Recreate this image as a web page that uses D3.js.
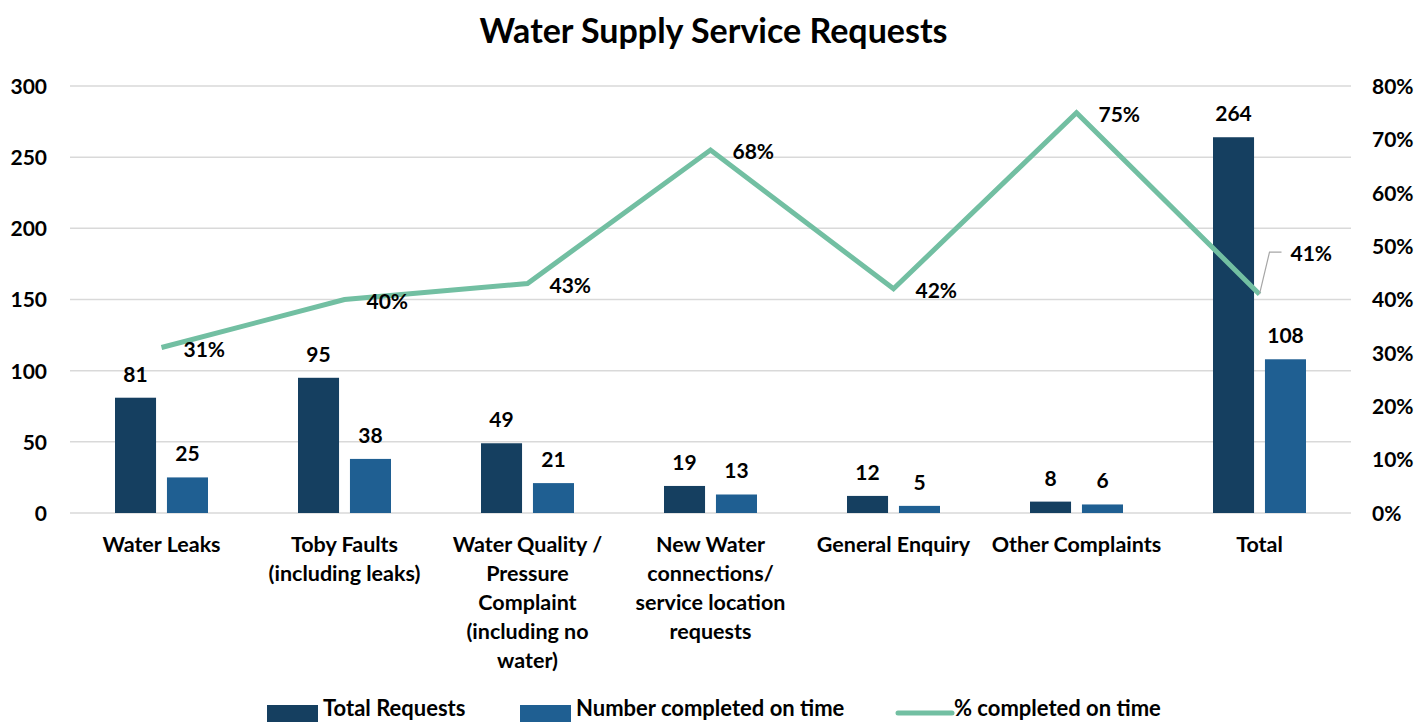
<!DOCTYPE html>
<html>
<head>
<meta charset="utf-8">
<script src="https://cdn.jsdelivr.net/npm/d3@7/dist/d3.min.js"></script>
<style>
  html, body { margin: 0; padding: 0; background: #fff; }
  svg text { font-family: Lato, "Open Sans", "DejaVu Sans", sans-serif; font-weight: 700; fill: #000; }
</style>
</head>
<body>
<svg id="chart" width="1417" height="722"></svg>
<script>
// Service request categories (each entry is the wrapped lines of the axis label)
const categories = [
  ["Water Leaks"],
  ["Toby Faults", "(including leaks)"],
  ["Water Quality /", "Pressure", "Complaint", "(including no", "water)"],
  ["New Water", "connections/", "service location", "requests"],
  ["General Enquiry"],
  ["Other Complaints"],
  ["Total"]
];
const totalRequests   = [81, 95, 49, 19, 12, 8, 264];
const completedOnTime = [25, 38, 21, 13, 5, 6, 108];
const pctOnTime       = [0.31, 0.40, 0.43, 0.68, 0.42, 0.75, 0.41];

const leftTicks  = [0, 50, 100, 150, 200, 250, 300];
const rightTicks = [0, 0.1, 0.2, 0.3, 0.4, 0.5, 0.6, 0.7, 0.8];

const seriesNames = ["Total Requests", "Number completed on time", "% completed on time"];
const colors = { total: "#153f60", done: "#1f5f92", pct: "#72bfa2", grid: "#d9d9d9" };

const svg = d3.select("#chart");
const W = 1417;
const plot = { left: 70, right: 1351, top: 86, bottom: 513 };

const keys = categories.map(c => c.join(" "));
const x = d3.scaleBand().domain(keys).range([plot.left, plot.right]).paddingInner(0).paddingOuter(0);
const yL = d3.scaleLinear().domain([0, 300]).range([plot.bottom, plot.top]);
const yR = d3.scaleLinear().domain([0, 0.8]).range([plot.bottom, plot.top]);
const cx = k => x(k) + x.bandwidth() / 2;
const inner = d3.scaleBand().domain(["total", "done"]).range([-46.5, 46.5]).paddingInner(0.21);

// Title
svg.append("text").attr("x", W / 2 + 5).attr("y", 43).attr("text-anchor", "middle")
  .style("font-size", "34px").text("Water Supply Service Requests");

// Gridlines
svg.append("g").selectAll("line").data(leftTicks).join("line")
  .attr("x1", plot.left).attr("x2", plot.right)
  .attr("y1", d => yL(d)).attr("y2", d => yL(d))
  .attr("stroke", colors.grid).attr("stroke-width", 1.5);

// Left axis
const axL = d3.axisLeft(yL).tickValues(leftTicks).tickSize(0).tickPadding(0);
const gL = svg.append("g").attr("transform", `translate(47,0)`).call(axL);
gL.select(".domain").remove();
gL.selectAll("text").style("font-size", "21px").attr("dy", "0.35em").attr("fill", "#000");

// Right axis
const axR = d3.axisRight(yR).tickValues(rightTicks).tickSize(0).tickPadding(0).tickFormat(d3.format(".0%"));
const gR = svg.append("g").attr("transform", `translate(1372,0)`).call(axR);
gR.select(".domain").remove();
gR.selectAll("text").style("font-size", "21px").attr("dy", "0.35em").attr("fill", "#000");

// Bars
const rows = keys.map((k, i) => ({ k, total: totalRequests[i], done: completedOnTime[i], pct: pctOnTime[i] }));
const barG = svg.append("g");
["total", "done"].forEach(s => {
  barG.selectAll("rect." + s).data(rows).join("rect").attr("class", s)
    .attr("x", d => cx(d.k) + inner(s))
    .attr("width", inner.bandwidth())
    .attr("y", d => yL(d[s]))
    .attr("height", d => yL(0) - yL(d[s]))
    .attr("fill", colors[s]);
  barG.selectAll("text." + s).data(rows).join("text").attr("class", s)
    .attr("x", d => cx(d.k) + inner(s) + inner.bandwidth() / 2)
    .attr("y", d => yL(d[s]) - 16)
    .attr("text-anchor", "middle").style("font-size", "21px")
    .text(d => d[s]);
});

// Percentage line
const line = d3.line().x(d => cx(d.k)).y(d => yR(d.pct));
svg.append("path").datum(rows).attr("d", line)
  .attr("fill", "none").attr("stroke", colors.pct).attr("stroke-width", 5)
  .attr("stroke-linejoin", "miter").attr("stroke-linecap", "butt");

// Percentage labels
const fmtPct = d3.format(".0%");
const last = rows.length - 1;
svg.append("g").selectAll("text").data(rows).join("text")
  .attr("x", (d, i) => i === last ? cx(d.k) + 31 : cx(d.k) + 22)
  .attr("y", (d, i) => i === last ? yR(d.pct) - 41 : yR(d.pct) + 2)
  .attr("dy", "0.35em").style("font-size", "21px")
  .text(d => fmtPct(d.pct));

// Leader line for the total's percentage label
const lt = rows[last];
const px = cx(lt.k), py = yR(lt.pct);
svg.append("path")
  .attr("d", `M${px},${py} L${px + 10},${py - 42} L${px + 22},${py - 42}`)
  .attr("fill", "none").attr("stroke", "#a6a6a6").attr("stroke-width", 1.2);

// Category labels
const catG = svg.append("g");
rows.forEach((d, i) => {
  const t = catG.append("text").attr("x", cx(d.k)).attr("y", 551)
    .attr("text-anchor", "middle").style("font-size", "21.5px");
  categories[i].forEach((ln, j) => {
    t.append("tspan").attr("x", cx(d.k)).attr("y", 552 + j * 29).text(ln);
  });
});

// Legend
const legend = [
  { name: seriesNames[0], type: "rect", color: colors.total, x: 267 },
  { name: seriesNames[1], type: "rect", color: colors.done, x: 520 },
  { name: seriesNames[2], type: "line", color: colors.pct, x: 898 }
];
const lg = svg.append("g");
legend.forEach(l => {
  if (l.type === "rect") {
    lg.append("rect").attr("x", l.x).attr("y", 705).attr("width", 51).attr("height", 20).attr("fill", l.color);
  } else {
    lg.append("line").attr("x1", l.x).attr("x2", l.x + 54).attr("y1", 713).attr("y2", 713)
      .attr("stroke", l.color).attr("stroke-width", 5).attr("stroke-linecap", "round");
  }
  lg.append("text").attr("x", l.x + 56).attr("y", 716).style("font-size", "22px").text(l.name);
});
</script>
</body>
</html>
